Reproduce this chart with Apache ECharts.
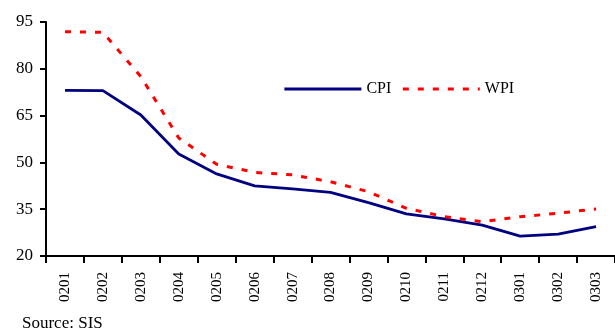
<!DOCTYPE html>
<html>
<head>
<meta charset="utf-8">
<script src="https://cdn.jsdelivr.net/npm/echarts@6/dist/echarts.min.js"></script>
<style>
html,body{margin:0;padding:0;background:#fff;}
#chart{width:615px;height:332px;}
</style>
</head>
<body>
<div id="chart"></div>
<script>
var categories = ['0201','0202','0203','0204','0205','0206','0207','0208','0209','0210','0211','0212','0301','0302','0303'];
var cpi = [73.1, 73.0, 65.2, 52.7, 46.3, 42.5, 41.5, 40.4, 37.1, 33.5, 31.9, 29.9, 26.4, 27.0, 29.4];
var wpi = [91.9, 91.7, 77.5, 57.8, 49.4, 46.8, 46.0, 43.8, 40.6, 35.3, 32.6, 31.0, 32.6, 33.7, 35.1];
var yTicks = [20, 35, 50, 65, 80, 95];

var FONT = '"Liberation Serif", "Times New Roman", serif';
var chart = echarts.init(document.getElementById('chart'), null, {renderer: 'canvas'});
chart.setOption({
  animation: false,
  backgroundColor: '#ffffff',
  grid: {left: 46, top: 22, bottom: 76, right: -7, containLabel: false},
  legend: {
    left: 278, top: 76,
    itemWidth: 77, itemHeight: 10, itemGap: 10,
    itemStyle: {opacity: 0},
    textStyle: {fontFamily: FONT, fontSize: 16, color: '#000'},
    data: [
      {name: 'CPI', lineStyle: {width: 2.8}},
      {name: 'WPI', lineStyle: {width: 3}}
    ]
  },
  graphic: [{
    type: 'text', left: 22, top: 315,
    style: {text: 'Source: SIS', font: '17px ' + FONT, fill: '#000'}
  }],
  xAxis: {
    type: 'category',
    data: categories,
    boundaryGap: true,
    axisLine: {lineStyle: {color: '#000', width: 2}},
    axisTick: {show: true, length: 7, lineStyle: {color: '#000', width: 2}},
    axisLabel: {rotate: 90, margin: 16, fontFamily: FONT, fontSize: 15, color: '#000', interval: 0},
    splitLine: {show: false}
  },
  yAxis: {
    type: 'value',
    min: yTicks[0], max: yTicks[yTicks.length - 1], interval: 15,
    axisLine: {show: true, lineStyle: {color: '#000', width: 2}},
    axisTick: {show: true, length: 6, lineStyle: {color: '#000', width: 2}},
    axisLabel: {margin: 13, fontFamily: FONT, fontSize: 17, color: '#000'},
    splitLine: {show: false}
  },
  series: [
    {name: 'CPI', type: 'line', data: cpi, symbol: 'none',
     lineStyle: {color: '#000080', width: 2.8}, itemStyle: {color: '#000080'}},
    {name: 'WPI', type: 'line', data: wpi, symbol: 'none',
     lineStyle: {color: '#ff0000', width: 3, type: [6, 9]}, itemStyle: {color: '#ff0000'}}
  ]
});
</script>
</body>
</html>
